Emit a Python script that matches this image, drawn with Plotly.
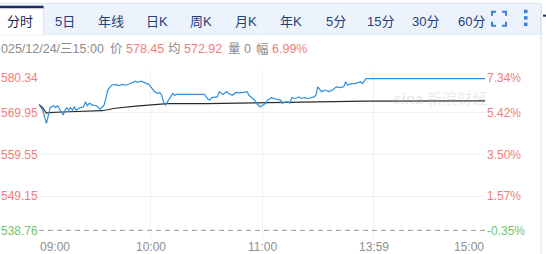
import plotly.graph_objects as go

# ---- data ----
minutes = [0, 1, 2, 4, 5, 6, 8, 9, 10, 11, 13, 14, 15, 16, 17, 18, 19, 20, 22, 24,
           25, 26, 27, 29, 31, 33, 35, 36, 37, 39, 41, 43, 45, 47, 50, 52, 53, 55, 58, 59,
           60, 61, 62, 64, 65, 66, 67, 68, 70, 71, 72, 73, 74, 89, 91, 92, 93, 96, 97, 99,
           101, 102, 104, 106, 108, 110, 112, 113, 115, 116, 117, 119, 121, 122, 123, 125,
           128, 130, 131, 133, 135, 136, 138, 140, 141, 143, 145, 148, 149, 150, 152, 154,
           156, 158, 160, 162, 164, 165, 166, 168, 170, 173, 174, 176, 240]
price = [572.0, 571.4, 570.6, 567.3, 569.4, 571.2, 571.7, 571.2, 571.7, 571.0, 569.4, 570.6,
         571.2, 570.6, 571.2, 570.6, 571.4, 570.6, 571.2, 571.4, 572.7, 571.7, 572.3, 571.85,
         571.7, 570.85, 571.85, 573.5, 575.6, 576.8, 577.0, 576.7, 577.0, 576.8, 577.5, 577.8,
         577.5, 577.8, 577.2, 577.1, 576.5, 575.8, 575.3, 574.75, 575.0, 574.3, 572.7, 571.85,
         573.3, 573.7, 574.75, 574.3, 574.5, 574.5, 573.3, 573.1, 573.7, 573.9, 575.2, 574.5,
         575.2, 574.75, 574.3, 575.0, 574.9, 575.0, 575.2, 574.3, 573.5, 573.1, 572.3, 571.4,
         572.0, 572.3, 573.1, 573.7, 573.3, 573.1, 572.3, 572.7, 572.4, 573.7, 573.5, 573.9,
         573.5, 573.7, 573.5, 573.9, 574.3, 576.4, 575.2, 575.6, 575.2, 575.6, 576.4, 576.2,
         576.4, 577.66, 576.8, 577.2, 577.2, 577.66, 577.2, 578.45, 578.45]
avg_minutes = [0, 1, 2, 4, 5, 16, 34, 37, 40, 52, 62, 69, 90, 104, 122, 143, 176, 240]
avg_price = [572.0, 571.6, 571.2, 569.8, 570.0, 570.2, 570.45, 570.7, 571.0, 571.6, 572.0,
             572.2, 572.2, 572.3, 572.34, 572.6, 572.85, 572.92]

prev_close = 540.66
y_ticks = [580.34, 569.95, 559.55, 549.15, 538.76]
pct_labels = ["7.34%", "5.42%", "3.50%", "1.57%", "-0.35%"]
x_ticks = [0, 60, 120, 180, 240]
x_labels = ["09:00", "10:00", "11:00", "13:59", "15:00"]

tabs = ["分时", "5日", "年线", "日K", "周K", "月K", "年K", "5分", "15分", "30分", "60分"]
tab_centers = [20, 65, 111, 157, 201, 246, 291, 336, 380, 425, 471]

# ---- layout helpers ----
W, H = 546, 254
L, R, T, B = 39, 485, 70.5, 238


def px(x):
    return (x - L) / (R - L)


def py(y):
    return (B - y) / (B - T)


FONT = "Liberation Sans, Arial, Noto Sans CJK SC, sans-serif"
RED = "#f47c7c"
GREEN = "#6cc86c"
GRAY = "#8c8c8c"

fig = go.Figure()
fig.add_trace(go.Scatter(x=avg_minutes, y=avg_price, mode="lines",
                         line=dict(color="#2b2b2b", width=1.2), hoverinfo="skip"))
fig.add_trace(go.Scatter(x=minutes, y=price, mode="lines",
                         line=dict(color="#2e8fde", width=1.2), hoverinfo="skip"))

shapes = []
# prev close dashed line
shapes.append(dict(type="line", xref="x", yref="y", x0=0, x1=240, y0=prev_close, y1=prev_close,
                   line=dict(color="#999999", width=1, dash="5px,4px")))
# tab bar background
shapes.append(dict(type="rect", xref="paper", yref="paper", x0=px(0), x1=px(541),
                   y0=py(33.5), y1=py(2.5), fillcolor="#edf3fc",
                   line=dict(color="#dce5f1", width=1), layer="below"))
# selected tab
shapes.append(dict(type="rect", xref="paper", yref="paper", x0=px(-2), x1=px(43.5),
                   y0=py(34.5), y1=py(5.5), fillcolor="#ffffff",
                   line=dict(color="#dce5f1", width=1), layer="above"))
shapes.append(dict(type="rect", xref="paper", yref="paper", x0=px(-2), x1=px(43),
                   y0=py(33.6), y1=py(34.8), fillcolor="#ffffff", line=dict(width=0)))
shapes.append(dict(type="rect", xref="paper", yref="paper", x0=px(-2), x1=px(43.5),
                   y0=py(7.5), y1=py(5), fillcolor="#1c2d66", line=dict(width=0)))
# right border
shapes.append(dict(type="line", xref="paper", yref="paper", x0=px(541), x1=px(541),
                   y0=py(254), y1=py(2.5), line=dict(color="#dce3ec", width=1)))
shapes.append(dict(type="line", xref="paper", yref="paper", x0=px(543), x1=px(546),
                   y0=py(15), y1=py(15), line=dict(color="#1c2d66", width=2)))
# fullscreen icon
ic = "#3f7fd6"
x0i, x1i, y0i, y1i, a = 492, 506, 11, 25, 4
for path in [
    f"M{px(x0i)},{py(y0i+a)} L{px(x0i)},{py(y0i)} L{px(x0i+a)},{py(y0i)}",
    f"M{px(x1i-a)},{py(y0i)} L{px(x1i)},{py(y0i)} L{px(x1i)},{py(y0i+a)}",
    f"M{px(x0i)},{py(y1i-a)} L{px(x0i)},{py(y1i)} L{px(x0i+a)},{py(y1i)}",
    f"M{px(x1i-a)},{py(y1i)} L{px(x1i)},{py(y1i)} L{px(x1i)},{py(y1i-a)}",
]:
    shapes.append(dict(type="path", xref="paper", yref="paper", path=path,
                       line=dict(color=ic, width=2)))
# vertical dots
for yy in (9, 15.5, 22):
    shapes.append(dict(type="rect", xref="paper", yref="paper", x0=px(524), x1=px(527.5),
                       y0=py(yy + 3.5), y1=py(yy), fillcolor=ic, line=dict(width=0)))

ann = []
# tabs
for t, c in zip(tabs, tab_centers):
    ann.append(dict(text=t, xref="paper", yref="paper", x=px(c), y=py(20.5),
                    xanchor="center", yanchor="middle", showarrow=False,
                    font=dict(family=FONT, size=13,
                              color="#16254d" if t == "分时" else "#23407e")))
# header info row
info = [("025/12/24/三15:00", GRAY, 0), ("价", GRAY, 109), ("578.45", RED, 125),
        ("均", GRAY, 167), ("572.92", RED, 183), ("量", GRAY, 227), ("0", GRAY, 243),
        ("幅", GRAY, 255), ("6.99%", RED, 271)]
for t, col, xx in info:
    ann.append(dict(text=t, xref="paper", yref="paper", x=px(xx), y=py(48.5),
                    xanchor="left", yanchor="middle", showarrow=False, borderpad=0,
                    font=dict(family=FONT, size=12.5, color=col)))
# y labels
n = len(y_ticks)
for i, (v, p) in enumerate(zip(y_ticks, pct_labels)):
    col = RED if v > prev_close else GREEN
    ya = "top" if i == 0 else ("bottom" if i == n - 1 else "middle")
    ys = 1 if i == 0 else (-1 if i == n - 1 else 0)
    ann.append(dict(text=f"{v:.2f}", xref="paper", yref="y", x=0, y=v, xanchor="right",
                    yanchor=ya, yshift=ys, xshift=0, showarrow=False, borderpad=0,
                    font=dict(family=FONT, size=12, color=col)))
    ann.append(dict(text=p, xref="paper", yref="y", x=1, y=v, xanchor="left",
                    yanchor=ya, yshift=ys, xshift=1, showarrow=False, borderpad=0,
                    font=dict(family=FONT, size=12, color=col)))
# x labels
for i, (v, t) in enumerate(zip(x_ticks, x_labels)):
    xa = "left" if i == 0 else ("right" if i == len(x_ticks) - 1 else "center")
    ann.append(dict(text=t, xref="x", yref="paper", x=v, y=0, xanchor=xa, yanchor="top",
                    yshift=-1, showarrow=False, borderpad=0,
                    font=dict(family=FONT, size=12, color="#909090")))
# watermark
ann.append(dict(text="<i><b>sina</b></i> 新浪财经", xref="paper", yref="paper", x=px(440),
                y=py(98), xanchor="center", yanchor="middle", showarrow=False,
                font=dict(family=FONT, size=15, color="rgba(180,180,180,0.28)")))

fig.update_layout(
    width=W, height=H,
    margin=dict(l=L, r=W - R, t=T, b=H - B, pad=0),
    paper_bgcolor="white", plot_bgcolor="white",
    showlegend=False,
    xaxis=dict(range=[0, 240], tickvals=[60, 120, 180], showticklabels=False,
               showgrid=True, gridcolor="#f0f0f0", gridwidth=1, zeroline=False,
               showline=False, fixedrange=True),
    yaxis=dict(range=[y_ticks[-1], y_ticks[0]], tickvals=y_ticks, showticklabels=False,
               showgrid=True, gridcolor="#f0f0f0", gridwidth=1, zeroline=False,
               showline=False, fixedrange=True),
    shapes=shapes, annotations=ann,
)
fig.write_html("out.html", config={"displayModeBar": False})
